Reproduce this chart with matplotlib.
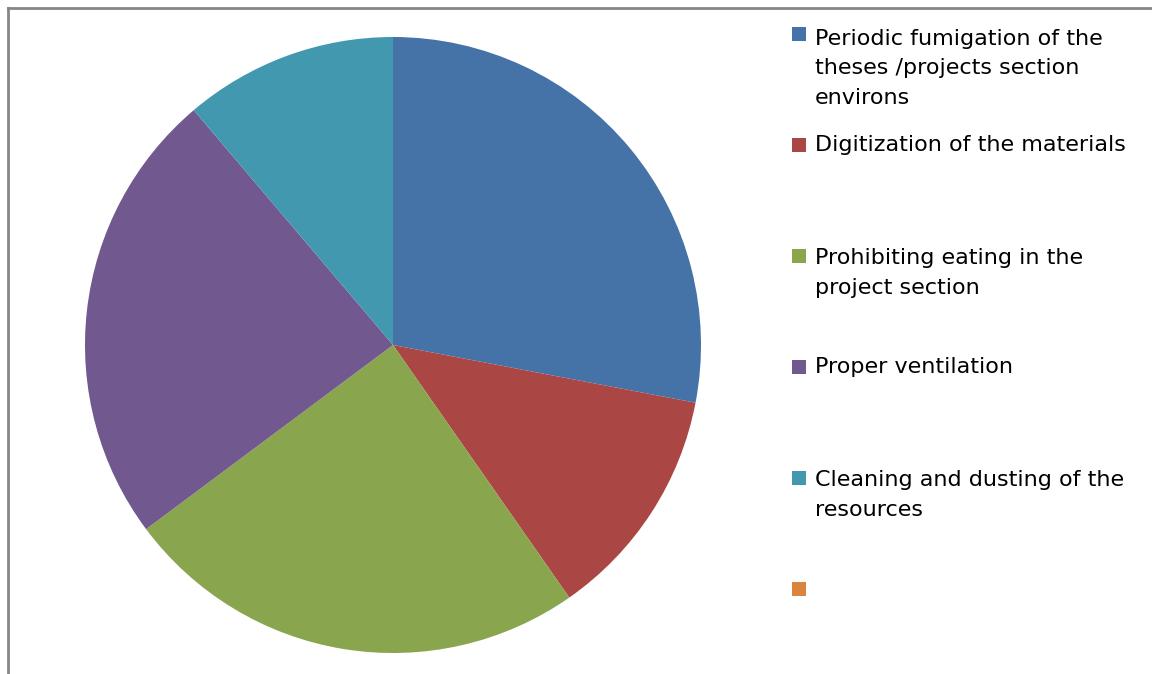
import matplotlib
matplotlib.use("Agg")
import matplotlib.pyplot as plt
from matplotlib.patches import Rectangle
from matplotlib.lines import Line2D

labels = [
    "Periodic fumigation of the\ntheses /projects section\nenvirons",
    "Digitization of the materials",
    "Prohibiting eating in the\nproject section",
    "Proper ventilation",
    "Cleaning and dusting of the\nresources",
    "",
]
values = [28.0, 12.3, 24.5, 24.0, 11.2, 0.0]
colors = ["#4572A7", "#AA4643", "#89A54E", "#71588F", "#4198AF", "#DB843D"]

W, H = 1152, 674
fig = plt.figure(figsize=(W / 100, H / 100), dpi=100)
fig.patch.set_facecolor("white")

# pie axes: center (393,345) px, radius 308 px
cx, cy, r = 393, 345, 308
ax = fig.add_axes([(cx - r) / W, (H - cy - r) / H, 2 * r / W, 2 * r / H])
ax.pie(values, colors=colors, startangle=90, counterclock=False,
       wedgeprops=dict(linewidth=0))
ax.set_aspect("equal")
ax.set_xlim(-1, 1)
ax.set_ylim(-1, 1)
ax.axis("off")

# chart border (top and left visible)
fig.add_artist(Line2D([8 / W, 1.0], [1 - 8 / H, 1 - 8 / H], color="#868686",
                      linewidth=2, transform=fig.transFigure))
fig.add_artist(Line2D([8 / W, 8 / W], [1 - 8 / H, 0.0], color="#868686",
                      linewidth=2, transform=fig.transFigure))

# legend
base0, pitch, lpitch = 40, 111, 32
for i, (lab, col) in enumerate(zip(labels, colors)):
    yb = base0 + i * pitch
    fig.add_artist(Rectangle((792 / W, 1 - (yb + 1) / H), 14 / W, 14 / H,
                             facecolor=col, edgecolor="none",
                             transform=fig.transFigure))
    if lab:
        n = lab.count("\n")
        fig.text(815 / W, 1 - (yb + n * lpitch) / H, lab, fontsize=16,
                 family="DejaVu Sans", va="baseline", ha="left",
                 linespacing=1.6, color="black")

fig.savefig("out.png", dpi=100, facecolor="white")
